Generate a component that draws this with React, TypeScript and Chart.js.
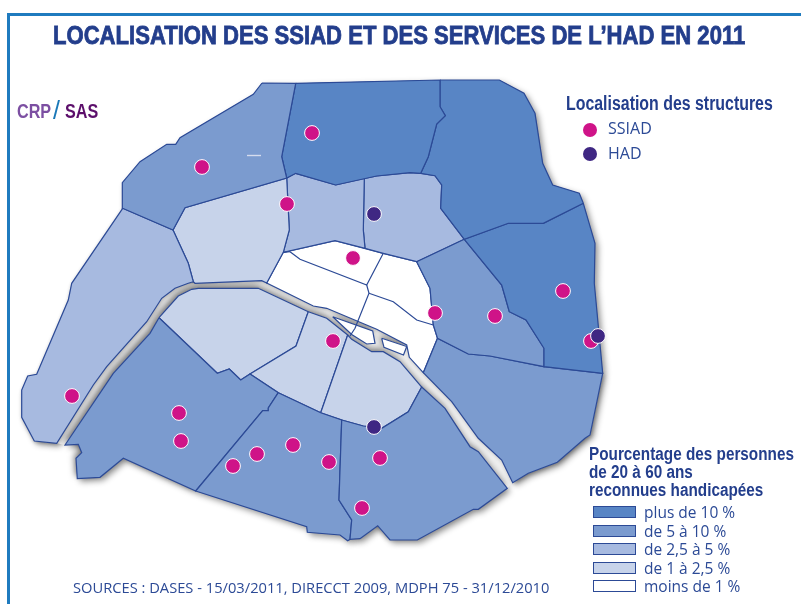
import React, { useEffect, useRef } from "react";
import { Chart, registerables } from "chart.js";

type P = [number, number];

// Arrondissement outlines (map units)
const arr17: P[] = [[262,83],[295.7,83.3],[281.7,156.7],[286.7,178],[185,207.7],[173,230],[122.7,208.3],[122.3,182.7],[140,161.7],[166.7,144.3],[175.7,144.3],[180,137.7],[253.3,94.3]];
const arr18: P[] = [[295.7,83.3],[440,80],[440,106.7],[445.3,115.7],[436.7,124],[428.3,156.7],[420.7,173.3],[410,172.7],[376.7,176],[335.7,185],[295.7,173.3],[286.7,178],[281.7,156.7]];
const arr19: P[] = [[440,80],[499.3,80],[524,93.3],[535,113.3],[542.7,163.3],[552.7,185],[579.3,193.3],[583.3,203.3],[543.3,223.3],[508.3,223.3],[464.3,239.3],[440.7,208.3],[441.7,185],[435,175.7],[420.7,173.3],[428.3,156.7],[436.7,124],[445.3,115.7],[440,106.7]];
const arr20: P[] = [[583.3,203.3],[595,243.3],[594.3,283.3],[602.7,373.3],[544,366.7],[544,348.3],[526,320],[509.3,311.7],[506,300],[501.7,285],[464.3,239.3],[508.3,223.3],[543.3,223.3]];
const arr11: P[] = [[464.3,239.3],[501.7,285],[506,300],[509.3,311.7],[526,320],[544,348.3],[544,366.7],[490,356],[468.3,354],[437.5,338.3],[433.3,325],[430,288.3],[416.7,261.7]];
const arr12: P[] = [[437.5,338.3],[468.3,354],[490,356],[544,366.7],[602.7,373.3],[590,435],[585,438.3],[557.3,462.3],[528.3,473.3],[512.7,482.7],[501.7,460],[478.3,438.3],[451.7,401.7],[423.3,372.7]];
const arr13: P[] = [[341.7,420],[363.3,426],[381.7,428.3],[408.3,411.7],[421.7,387],[445,408.3],[470,446.7],[478.3,451.7],[507.3,488.3],[478.3,509.3],[473.3,509.3],[417.3,540],[390,540],[377.7,525.7],[360,538.7],[350,539.3],[351.7,520],[339,500]];
const arr14: P[] = [[278.3,392.7],[320.7,412.7],[341.7,420],[339,500],[351.7,520],[350,539.3],[347.7,540.7],[340,535],[307.3,532.3],[306.7,526.7],[195.7,491],[262.7,410.7],[268.3,410.7],[268.3,408]];
const arr15: P[] = [[159,317.7],[217.3,373.3],[229.3,369],[240.7,380],[250,374],[278.3,392.7],[268.3,408],[268.3,410.7],[262.7,410.7],[195.7,491],[123.3,458.3],[100,477.3],[77.3,478.7],[76,458.3],[81.7,452.7],[78.3,444.3],[65,445],[113.3,373.3],[150,333.3]];
const arr16: P[] = [[122.7,208.3],[173,230],[188.3,263.3],[193.3,281.7],[188.3,283.3],[175,288.3],[161.7,298.3],[146.7,321.7],[106.7,366.7],[93.3,385],[56.7,443.3],[34.3,441],[21.7,417.3],[21.7,390],[27.7,376],[36.7,374.3],[68.3,300],[71.7,283.3]];
const arr08: P[] = [[173,230],[185,207.7],[286.7,178],[289.3,230],[283.3,252.3],[266.7,283],[261.7,280.7],[195,283.3],[193.3,281.7],[188.3,263.3]];
const arr09: P[] = [[286.7,178],[295.7,173.3],[335.7,185],[364.3,178.3],[363.3,230],[365,248.3],[335,240.7],[283.3,252.3],[289.3,230]];
const arr10: P[] = [[364.3,178.3],[376.7,176],[410,172.7],[420.7,173.3],[435,175.7],[441.7,185],[440.7,208.3],[464.3,239.3],[416.7,261.7],[383.3,253.3],[365,248.3],[363.3,230]];
const arr05: P[] = [[347.7,335],[320.7,412.7],[341.7,420],[363.3,426],[381.7,428.3],[408.3,411.7],[421.7,387],[400,361.7],[383.3,351.7],[371.7,351.7],[351.7,339.3]];
const arr06: P[] = [[308.3,311.7],[296,346],[250,374],[278.3,392.7],[320.7,412.7],[347.7,335],[326.7,318.3]];
const arr07: P[] = [[159,317.7],[178.3,296],[191.7,289.3],[198.3,288.3],[258.3,288.3],[308.3,311.7],[296,346],[250,374],[240.7,380],[229.3,369],[217.3,373.3]];
const centre: P[] = [[283.3,252.3],[335,240.7],[383.3,253.3],[416.7,261.7],[430,288.3],[433.3,325],[437.5,338.3],[423.3,372.7],[409.3,357.3],[406.7,345],[376.7,329.3],[326.7,308.3],[313.3,306],[266.7,283]];
const cite: P[] = [[332.7,316.7],[372.7,331],[375,343.3],[366.7,344],[351.7,334.5]];
const stLouis: P[] = [[381.7,338.3],[406.7,346.5],[403.5,355],[384,347.3]];
const seine: P[] = [[56.7,443.3],[93.3,385],[106.7,366.7],[146.7,321.7],[161.7,298.3],[175,288.3],[188.3,283.3],[195,283.3],[261.7,280.7],[313.3,306],[326.7,308.3],[376.7,329.3],[406.7,345],[409.3,357.3],[423.3,372.7],[451.7,401.7],[478.3,438.3],[501.7,460],[512.7,482.7],[507.3,488.3],[478.3,451.7],[470,446.7],[445,408.3],[421.7,387],[400,361.7],[383.3,351.7],[371.7,351.7],[351.7,339.3],[326.7,318.3],[308.3,311.7],[258.3,288.3],[198.3,288.3],[191.7,289.3],[178.3,296],[159,317.7],[150,333.3],[113.3,373.3],[65,445]];

// Internal boundaries of the white centre
const line1: P[] = [[290,251.7],[300,259.3],[366.7,285],[383.3,253.3]];
const line2: P[] = [[366.7,285],[369,293.3],[355,328.3],[350,336]];
const line3: P[] = [[369,293.3],[393.3,301.7],[416.7,320],[433.3,325]];
const line4: P[] = [[283.3,252.3],[290,251.7]];
const whiteDash: P[] = [[247,155.5],[261,155.5]];

// Structures
const ssiad: P[] = [[312,133],[202,167],[287,204],[353,258],[435,313],[495,316],[563,291],[591,341],[333,341],[72,396],[179,413],[181,441],[233,466],[257,454],[293,445],[329,462],[380,458],[362,508]];
const had: P[] = [[374,214],[374,427],[598,336]];

// Legend
const classLabels = ["plus de 10 %", "de 5 à 10 %", "de 2,5 à 5 %", "de 1 à 2,5 %", "moins de 1 %"];
const classColors = ["#5885c5", "#7b9bcf", "#a7bae0", "#c7d3ea", "#ffffff"];
const structLabels = ["SSIAD", "HAD"];
const structColors = ["#cf1388", "#3f2783"];
const legendTitle = ["Pourcentage des personnes", "de 20 à 60 ans", "reconnues handicapées"];

const regions: { pts: P[]; cls: number }[] = [
  { pts: arr17, cls: 1 }, { pts: arr18, cls: 0 }, { pts: arr19, cls: 0 }, { pts: arr20, cls: 0 },
  { pts: arr11, cls: 1 }, { pts: arr12, cls: 1 }, { pts: arr13, cls: 1 }, { pts: arr14, cls: 1 },
  { pts: arr15, cls: 1 }, { pts: arr16, cls: 2 }, { pts: arr08, cls: 3 }, { pts: arr09, cls: 2 },
  { pts: arr10, cls: 2 }, { pts: arr05, cls: 3 }, { pts: arr06, cls: 3 }, { pts: arr07, cls: 3 },
  { pts: centre, cls: 4 }, { pts: cite, cls: 4 }, { pts: stLouis, cls: 4 },
];
const southBank: P[][] = [arr15, arr07, arr06, arr05, arr13, cite, stLouis];
const northBank: P[][] = [arr16, arr08, centre, arr12];

const INK = "#233e8c";
const EDGE = "#2c4a96";
const BOLD = '"Liberation Sans", sans-serif';
const LIGHT = '"Open Sans", sans-serif';

const xy = (pts: P[], close = true) => {
  const list = pts.map(([x, y]) => ({ x, y }));
  if (close) list.push({ x: pts[0][0], y: pts[0][1] });
  return list;
};

const shadowPlugin = {
  id: "regionShadow",
  beforeDatasetDraw(chart: any, args: any) {
    const s = (chart.data.datasets[args.index] as any).castShadow;
    if (s) {
      const c = chart.ctx;
      c.save();
      c.shadowColor = `rgba(0,0,0,${s.alpha})`;
      c.shadowBlur = s.blur;
      c.shadowOffsetX = s.dx;
      c.shadowOffsetY = s.dy;
    }
  },
  afterDatasetDraw(chart: any, args: any) {
    if ((chart.data.datasets[args.index] as any).castShadow) chart.ctx.restore();
  },
};

Chart.register(shadowPlugin, ...registerables);

const poly = (pts: P[], fill: string, order: number, extra: any = {}) => ({
  type: "scatter",
  data: xy(pts),
  showLine: true,
  fill: "shape",
  backgroundColor: fill,
  borderColor: EDGE,
  borderWidth: 1.2,
  tension: 0,
  pointRadius: 0,
  order,
  ...extra,
});

const stroke = (pts: P[], color = EDGE, width = 1.2) => ({
  type: "scatter",
  data: xy(pts, false),
  showLine: true,
  fill: false,
  borderColor: color,
  borderWidth: width,
  tension: 0,
  pointRadius: 0,
  order: 1,
});

const dots = (pts: P[], color: string, order: number) => ({
  type: "scatter",
  data: xy(pts, false),
  showLine: false,
  pointRadius: 7.4,
  pointBackgroundColor: color,
  pointBorderColor: "#ffffff",
  pointBorderWidth: 1,
  order,
});

const abs = (left: number, top: number, style: React.CSSProperties = {}): React.CSSProperties => ({
  position: "absolute",
  left,
  top,
  whiteSpace: "nowrap",
  lineHeight: 1,
  ...style,
});

const squeeze = (k: number): React.CSSProperties => ({ transform: `scaleX(${k})`, transformOrigin: "left top" });

export default function App() {
  const ref = useRef<HTMLCanvasElement>(null);
  useEffect(() => {
    const outer = { alpha: 0.45, blur: 6, dx: 3, dy: 3 };
    const inverse = { alpha: 0.5, blur: 6, dx: -2, dy: -3 };
    const faint = { alpha: 0.3, blur: 4, dx: 1, dy: 1 };
    const chart = new Chart(ref.current as HTMLCanvasElement, {
      type: "scatter",
      data: {
        datasets: [
          ...regions.map((r) => poly(r.pts, classColors[r.cls], 6, { castShadow: outer, borderWidth: 0 })),
          poly(seine, "#efefef", 5, { borderWidth: 0 }),
          ...southBank.map((pts) => poly(pts, "#c7d3ea", 4, { castShadow: inverse, borderWidth: 0 })),
          ...northBank.map((pts) => poly(pts, "#c7d3ea", 3, { castShadow: faint, borderWidth: 0 })),
          ...regions.map((r) => poly(r.pts, classColors[r.cls], 2)),
          stroke(line1), stroke(line2), stroke(line3), stroke(line4),
          stroke(whiteDash, "#d5dcee", 1.4),
          dots(ssiad, structColors[0], 1),
          dots(had, structColors[1], 0),
        ] as any,
      },
      options: {
        animation: false,
        responsive: false,
        events: [],
        layout: { padding: 0, autoPadding: false },
        plugins: { legend: { display: false }, tooltip: { enabled: false }, title: { display: false } },
        scales: {
          x: { type: "linear", min: 0, max: 801, display: false },
          y: { type: "linear", min: 0, max: 604, reverse: true, display: false },
        },
      },
    } as any);
    return () => chart.destroy();
  }, []);

  return (
    <div style={{ position: "fixed", left: 0, top: 0, width: 801, height: 604, overflow: "hidden", background: "#fff" }}>
      <canvas ref={ref} width={801} height={604} style={{ position: "absolute", left: 0, top: 0, display: "block" }} />
      <div style={{ position: "absolute", left: 7, top: 13, width: 810, height: 610, border: "3px solid #1f7bbf", boxSizing: "border-box" }} />
      <div style={abs(53, 23, { fontFamily: BOLD, fontWeight: 700, fontSize: 25, color: INK, WebkitTextStroke: "0.8px " + INK, ...squeeze(0.883) })}>
        LOCALISATION DES SSIAD ET DES SERVICES DE L’HAD EN 2011
      </div>
      <div style={abs(17, 100, { fontFamily: BOLD, fontWeight: 700, fontSize: 21, color: "#7c4fa2", ...squeeze(0.77) })}>CRP</div>
      <div style={abs(53, 98, { fontFamily: BOLD, fontSize: 25, color: "#1a78b8" })}>/</div>
      <div style={abs(65, 100, { fontFamily: BOLD, fontWeight: 700, fontSize: 21, color: "#5c0f6b", ...squeeze(0.77) })}>SAS</div>
      <div style={abs(566, 93, { fontFamily: BOLD, fontWeight: 700, fontSize: 20, color: INK, ...squeeze(0.795) })}>Localisation des structures</div>
      {structLabels.map((t, i) => (
        <React.Fragment key={t}>
          <div style={abs(583, 123 + i * 23.5, { width: 14, height: 14, borderRadius: 7, background: structColors[i] })} />
          <div style={abs(608, 120 + i * 24.5, { fontFamily: LIGHT, fontSize: 16, color: EDGE })}>{t}</div>
        </React.Fragment>
      ))}
      {legendTitle.map((t, i) => (
        <div key={t} style={abs(589, 445 + i * 18.2, { fontFamily: BOLD, fontWeight: 700, fontSize: 18, color: INK, ...squeeze(0.85) })}>{t}</div>
      ))}
      {classLabels.map((t, i) => (
        <React.Fragment key={t}>
          <div style={abs(593, 506 + i * 18.6, { width: 43, height: 12, boxSizing: "border-box", border: "1px solid " + EDGE, background: classColors[i] })} />
          <div style={abs(644, 505 + i * 18.6, { fontFamily: LIGHT, fontSize: 15.5, color: EDGE })}>{t}</div>
        </React.Fragment>
      ))}
      <div style={abs(73, 580, { fontFamily: LIGHT, fontSize: 14.7, color: EDGE })}>
        SOURCES : DASES - 15/03/2011, DIRECCT 2009, MDPH 75 - 31/12/2010
      </div>
    </div>
  );
}
